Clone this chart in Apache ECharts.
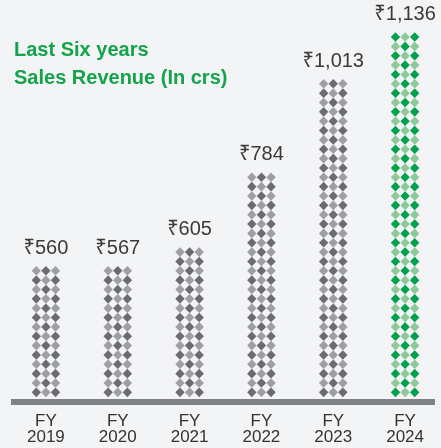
<!DOCTYPE html>
<html>
<head>
<meta charset="utf-8">
<script src="https://cdn.jsdelivr.net/npm/echarts@6/dist/echarts.min.js"></script>
<style>
  html, body { margin: 0; padding: 0; background: #f3f4f6; }
  #chart { width: 441px; height: 448px; }
</style>
</head>
<body>
<div id="chart"></div>
<script>
// 数据
const years = ['FY\n2019', 'FY\n2020', 'FY\n2021', 'FY\n2022', 'FY\n2023', 'FY\n2024'];
const revenue = [560, 567, 605, 784, 1013, 1136];
const darkColors = ['#6b6c6f', '#6b6c6f', '#6b6c6f', '#6b6c6f', '#6b6c6f', '#00a14b'];
const lightColors = ['#9e9fa1', '#9e9fa1', '#9e9fa1', '#9e9fa1', '#9e9fa1', '#90c89c'];

// 菱形格子尺寸
const COL = 9.6;
const ROW = 9.35;
const DW = 9.4;
const DH = 9.6;

const chart = echarts.init(document.getElementById('chart'));

function renderItem(params, api) {
  const idx = api.value(0);
  const top = api.coord([idx, api.value(1)]);
  const base = api.coord([idx, 250]);
  const rows = Math.max(1, Math.round((base[1] - top[1]) / ROW));
  const children = [];
  for (let r = 0; r < rows; r++) {
    for (let c = 0; c < 3; c++) {
      const cx = top[0] + (c - 1) * COL;
      const cy = base[1] - ROW / 2 - r * ROW;
      const dark = (r + c) % 2 === 0;
      children.push({
        type: 'polygon',
        shape: {
          points: [[cx, cy - DH / 2], [cx + DW / 2, cy], [cx, cy + DH / 2], [cx - DW / 2, cy]]
        },
        style: { fill: dark ? darkColors[idx] : lightColors[idx], stroke: null, lineWidth: 0 }
      });
    }
  }
  // 数值标签
  children.push({
    type: 'text',
    style: {
      text: '₹' + revenue[idx].toLocaleString('en-US'),
      x: top[0],
      y: base[1] - rows * ROW - 8,
      align: 'center',
      verticalAlign: 'bottom',
      font: '20px "Liberation Sans", "Noto Sans", sans-serif',
      fill: '#3a3a3a'
    }
  });
  return { type: 'group', children };
}

chart.setOption({
  backgroundColor: '#f3f4f6',
  animation: false,
  title: {
    text: 'Last Six years\nSales Revenue (In crs)',
    left: 9,
    top: 31,
    textStyle: {
      color: '#14a24a',
      fontSize: 20,
      fontWeight: 'bold',
      lineHeight: 28,
      fontFamily: '"Liberation Sans", Arial, sans-serif'
    }
  },
  grid: { left: 10, right: 0, top: 0, bottom: 51 },
  xAxis: {
    type: 'category',
    data: years,
    axisLine: { show: false },
    axisTick: { show: false },
    axisLabel: {
      margin: 16,
      color: '#333',
      fontSize: 17,
      lineHeight: 16,
      fontFamily: '"Liberation Sans", Arial, sans-serif'
    }
  },
  yAxis: {
    type: 'value',
    min: 250,
    max: 1214,
    show: false,
    splitLine: { show: false }
  },
  graphic: [{
    type: 'rect',
    shape: { x: 11, y: 399, width: 424, height: 6 },
    style: { fill: '#808184' }
  }],
  series: [{
    type: 'custom',
    renderItem: renderItem,
    encode: { x: 0, y: 1 },
    data: revenue.map((v, i) => [i, v]),
    clip: false
  }]
});
</script>
</body>
</html>
